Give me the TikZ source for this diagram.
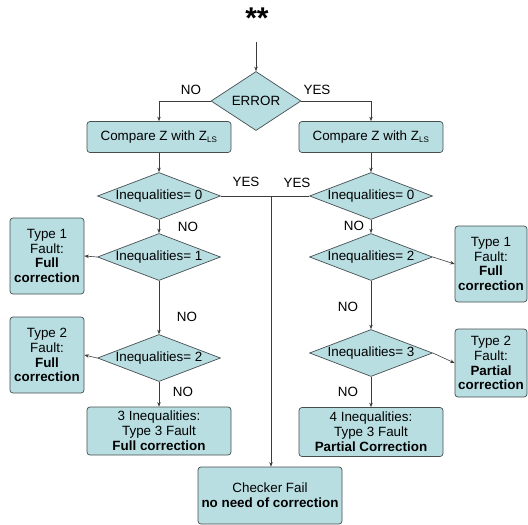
\documentclass[tikz,border=0pt]{standalone}
\usepackage{fontspec}
\setmainfont{Liberation Sans}
\usetikzlibrary{shapes.geometric,arrows.meta}
\definecolor{boxfill}{RGB}{184,222,226}
\definecolor{boxline}{RGB}{70,78,80}
\definecolor{wireline}{RGB}{60,60,60}
\tikzset{
  every node/.style={font=\fontsize{13.4}{14.8}\selectfont},
  rbox/.style={draw=boxline, fill=boxfill, rounded corners=3pt, line width=0.7pt,
    align=center, inner sep=0pt},
  dia/.style={diamond, draw=boxline, fill=boxfill, line width=0.7pt, inner sep=0pt,
    aspect=2.6, minimum width=123pt, minimum height=47pt},
  wire/.style={draw=wireline, line width=0.6pt},
  arr/.style={wire, -{Stealth[length=4.5pt,width=3.5pt]}},
  lbl/.style={inner sep=0pt}
}
\begin{document}
\begin{tikzpicture}[x=1pt,y=-1pt]
\useasboundingbox (0,0) rectangle (528,525);
% title
\node[lbl, font=\fontsize{30}{30}\selectfont\bfseries] (title) at (257,18) {**};
\coordinate (start) at (256,42);
% top decision
\node[dia, aspect=1.5, minimum width=90pt, minimum height=59pt] (err) at (256,101) {ERROR};
\node[rbox, minimum width=144pt, minimum height=31pt] (cmpL) at (159,137) {Compare Z with Z\textsubscript{\fontsize{8}{8}\selectfont LS}};
\node[rbox, minimum width=144pt, minimum height=31pt] (cmpR) at (371,137) {Compare Z with Z\textsubscript{\fontsize{8}{8}\selectfont LS}};
% left column
\node[dia] (dL0) at (159,196) {Inequalities= 0};
\node[dia] (dL1) at (159,257) {Inequalities= 1};
\node[dia] (dL2) at (159,358) {Inequalities= 2};
\node[rbox, minimum width=74pt, minimum height=76pt] (t1L) at (47,256) {Type 1\\Fault:\\\textbf{Full}\\\textbf{correction}};
\node[rbox, minimum width=74pt, minimum height=76pt] (t2L) at (47,355) {Type 2\\Fault:\\\textbf{Full}\\\textbf{correction}};
\node[rbox, minimum width=144pt, minimum height=48pt] (b3) at (159,431) {3 Inequalities:\\Type 3 Fault\\\textbf{Full correction}};
% right column
\node[dia] (dR0) at (371,196) {Inequalities= 0};
\node[dia] (dR2) at (371,257) {Inequalities= 2};
\node[dia] (dR3) at (371,353) {Inequalities= 3};
\node[rbox, minimum width=72pt, minimum height=76pt] (t1R) at (491,264) {Type 1\\Fault:\\\textbf{Full}\\\textbf{correction}};
\node[rbox, minimum width=72pt, minimum height=68pt] (t2R) at (491,363) {Type 2\\Fault:\\\textbf{Partial}\\\textbf{correction}};
\node[rbox, minimum width=144pt, minimum height=49pt] (b4) at (371,432) {4 Inequalities:\\Type 3 Fault\\\textbf{Partial Correction}};
% checker
\node[rbox, minimum width=144pt, minimum height=57pt] (chk) at (270,495.5) {Checker Fail\\\textbf{no need of correction}};
\coordinate (join) at (271,196);
% connectors
\draw[arr] (start) -- (err.north);
\draw[arr] (err.west) -| (cmpL.north);
\draw[arr] (err.east) -| (cmpR.north);
\draw[arr] (cmpL.south) -- (dL0.north);
\draw[arr] (cmpR.south) -- (dR0.north);
\draw[arr] (dL0.south) -- (dL1.north);
\draw[arr] (dL1.west) -- (t1L.east);
\draw[arr] (dL1.south) -- (dL2.north);
\draw[arr] (dL2.west) -- (t2L.east);
\draw[arr] (dL2.south) -- (b3.north);
\draw[arr] (dR0.south) -- (dR2.north);
\draw[arr] (dR2.east) -- (t1R.west);
\draw[arr] (dR2.south) -- (dR3.north);
\draw[arr] (dR3.east) -- (t2R.west);
\draw[arr] (dR3.south) -- (b4.north);
\draw[wire] (dL0.east) -- (join);
\draw[wire] (dR0.west) -- (join);
\draw[arr] (join) -- (chk.north -| join);
% labels
\node[lbl] (lno0) at (191,90) {NO};
\node[lbl] (lyes0) at (317,90) {YES};
\node[lbl] (lyesL) at (246,182) {YES};
\node[lbl] (lyesR) at (297,183) {YES};
\node[lbl] (lnoL1) at (188,227) {NO};
\node[lbl] (lnoL2) at (187,317) {NO};
\node[lbl] (lnoL3) at (183,392) {NO};
\node[lbl] (lnoR1) at (354,226) {NO};
\node[lbl] (lnoR2) at (348,307) {NO};
\node[lbl] (lnoR3) at (348,392) {NO};
\end{tikzpicture}
\end{document}
